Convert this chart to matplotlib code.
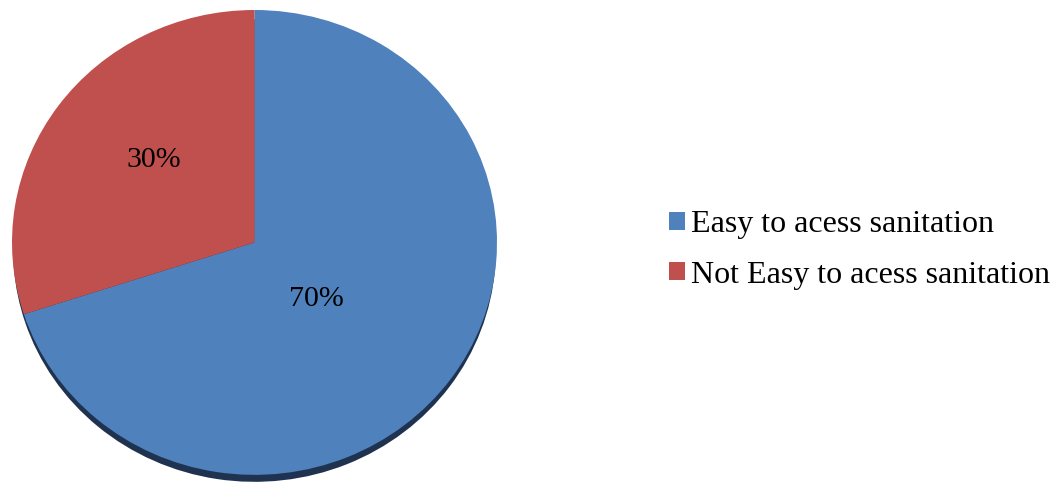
import matplotlib
matplotlib.use("Agg")
import matplotlib.pyplot as plt

categories = ["Easy to acess sanitation", "Not Easy to acess sanitation"]
values = [70, 30]
colors = ["#4F81BD", "#C0504D"]
label_pos = [(0.256, -0.245), (-0.417, 0.355)]

plt.rcParams['font.family'] = ['Liberation Serif', 'DejaVu Serif']

fig = plt.figure(figsize=(10.60, 4.87), dpi=100)
ax = fig.add_axes([12/1060, 4/487, 485/1060, 473/487])

# shadow
ax.pie(values, colors=["#1F3350", "#1F3350"], startangle=90, counterclock=False,
       center=(0, -0.035), radius=0.995, wedgeprops=dict(linewidth=0))
wedges, texts, autotexts = ax.pie(values, colors=colors, startangle=90, counterclock=False,
                                  radius=1.0, autopct='%1.0f%%',
                                  textprops=dict(fontsize=21.5, color='black'),
                                  wedgeprops=dict(linewidth=0))
for t, p in zip(autotexts, label_pos):
    t.set_position(p)
ax.set_aspect('auto')
ax.set_xlim(-1, 1)
ax.set_ylim(-1.035, 1.0)
ax.axis('off')

fig.legend(wedges, categories, loc='center left', bbox_to_anchor=(669/1060, 1 - 250/487),
           frameon=False, fontsize=23, handlelength=0.5, handleheight=0.5,
           handletextpad=0.2, labelspacing=0.66, borderpad=0, borderaxespad=0)

fig.savefig("out.png", dpi=100)
